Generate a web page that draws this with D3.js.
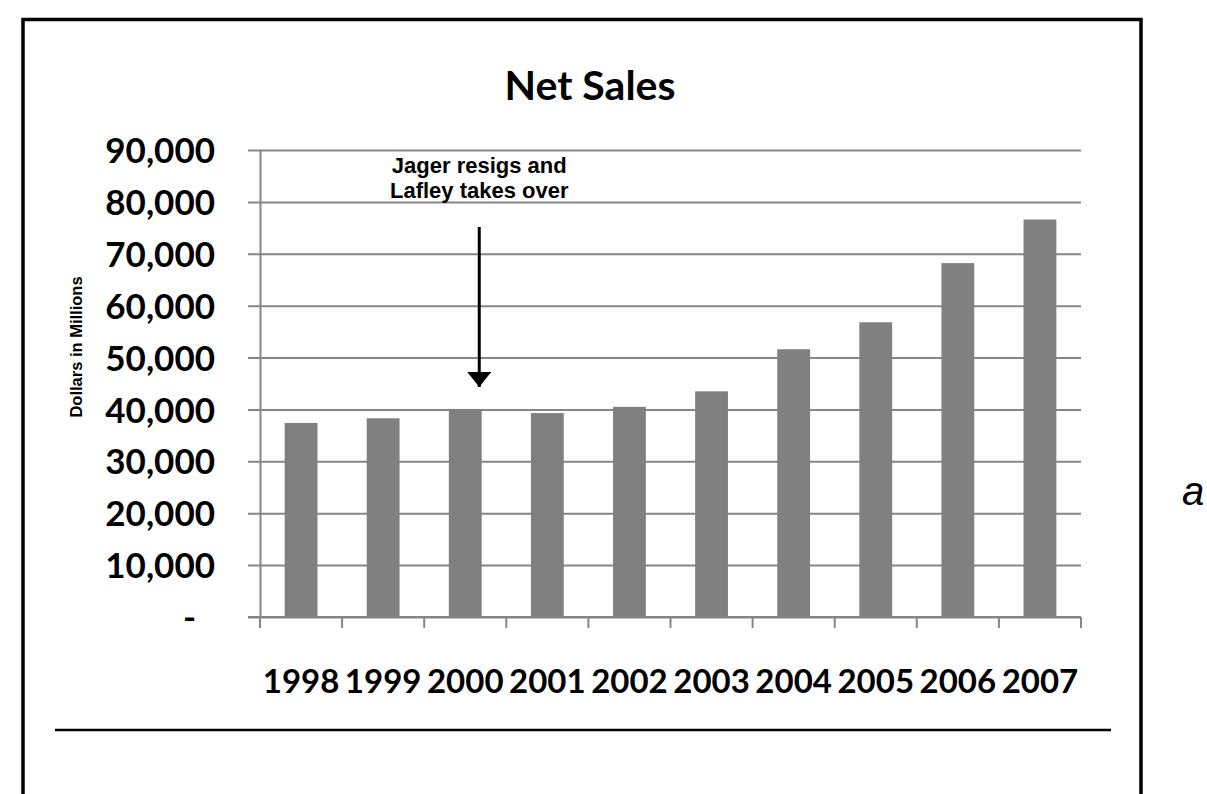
<!DOCTYPE html>
<html>
<head>
<meta charset="utf-8">
<script src="https://cdn.jsdelivr.net/npm/d3@7"></script>
<style>
  body { margin: 0; background: #fff; }
  svg { display: block; }
</style>
</head>
<body>
<div class="chart"></div>
<script>
// Data
const years = ['1998', '1999', '2000', '2001', '2002', '2003', '2004', '2005', '2006', '2007'];
const netSales = [37400, 38300, 40100, 39300, 40500, 43500, 51600, 56800, 68200, 76600];
const yTicks = [0, 10000, 20000, 30000, 40000, 50000, 60000, 70000, 80000, 90000];
const noteLines = ['Jager resigs and', 'Lafley takes over'];
const noteYear = '2000';

// SVG dimensions
const width = 1207;
const height = 794;
const margin = { top: 150, left: 260, right: 126, bottom: 177 };
const plotW = width - margin.left - margin.right;
const plotH = height - margin.top - margin.bottom;

const svg = d3.select('.chart')
  .append('svg')
  .attr('width', width)
  .attr('height', height);

// Frame round the slide
svg.append('path')
  .attr('d', `M23,${height + 5} V19.5 H1141 V${height + 5}`)
  .attr('fill', 'none')
  .attr('stroke', '#000')
  .attr('stroke-width', 3.5);

svg.append('line')
  .attr('x1', 55).attr('x2', 1111)
  .attr('y1', 730).attr('y2', 730)
  .attr('stroke', '#000')
  .attr('stroke-width', 2.5);

svg.append('text')
  .attr('x', 1182).attr('y', 505)
  .attr('font-family', 'Liberation Sans, Arial, sans-serif')
  .attr('font-style', 'italic')
  .attr('font-size', 40)
  .text('a');

// Title
svg.append('text')
  .attr('x', 590).attr('y', 100)
  .attr('text-anchor', 'middle')
  .attr('font-family', 'Lato, sans-serif')
  .attr('font-weight', 'bold')
  .attr('font-size', 41)
  .text('Net Sales');

// Scales
const x = d3.scaleBand()
  .domain(years)
  .range([0, plotW])
  .paddingInner(0.6)
  .paddingOuter(0.3);

const xEdge = d3.scaleLinear()
  .domain([0, years.length])
  .range([0, plotW]);

const y = d3.scaleLinear()
  .domain([0, 90000])
  .range([plotH, 0]);

const g = svg.append('g')
  .attr('transform', `translate(${margin.left},${margin.top})`);

// Y axis with gridlines
const yAxis = g.append('g')
  .call(d3.axisLeft(y)
    .tickValues(yTicks)
    .tickSizeInner(-plotW)
    .tickSizeOuter(0)
    .tickPadding(45)
    .tickFormat(d => d === 0 ? '-' : d3.format(',')(d)));

yAxis.select('.domain').attr('stroke', '#868686').attr('stroke-width', 2);
yAxis.selectAll('.tick line')
  .attr('x1', -12)
  .attr('stroke', '#868686')
  .attr('stroke-width', 2);
yAxis.selectAll('.tick text')
  .attr('fill', '#000')
  .attr('font-family', 'Lato, sans-serif')
  .attr('font-weight', 'bold')
  .attr('font-size', 35)
  .attr('dy', '0.36em');
yAxis.selectAll('.tick text')
  .filter(d => d === 0)
  .attr('x', -64);

// Bars
g.selectAll('rect.bar')
  .data(netSales)
  .enter()
  .append('rect')
  .attr('class', 'bar')
  .attr('x', (d, i) => x(years[i]))
  .attr('y', d => y(d))
  .attr('width', x.bandwidth())
  .attr('height', d => plotH - y(d))
  .attr('fill', '#808080');

// X axis line and category ticks
g.append('line')
  .attr('x1', -12).attr('x2', plotW)
  .attr('y1', plotH).attr('y2', plotH)
  .attr('stroke', '#868686')
  .attr('stroke-width', 2);

g.selectAll('line.xtick')
  .data(d3.range(years.length + 1))
  .enter()
  .append('line')
  .attr('class', 'xtick')
  .attr('x1', d => xEdge(d)).attr('x2', d => xEdge(d))
  .attr('y1', plotH).attr('y2', plotH + 11)
  .attr('stroke', '#868686')
  .attr('stroke-width', 2);

g.selectAll('text.year')
  .data(years)
  .enter()
  .append('text')
  .attr('class', 'year')
  .attr('x', d => x(d) + x.bandwidth() / 2)
  .attr('y', plotH + 76)
  .attr('text-anchor', 'middle')
  .attr('font-family', 'Lato, sans-serif')
  .attr('font-weight', 'bold')
  .attr('font-size', 33)
  .text(d => d);

// Y axis title
svg.append('text')
  .attr('transform', 'translate(82,347) rotate(-90)')
  .attr('text-anchor', 'middle')
  .attr('font-family', 'Liberation Sans, Arial, sans-serif')
  .attr('font-weight', 'bold')
  .attr('font-size', 16.5)
  .text('Dollars in Millions');

// Annotation with arrow
const noteX = x(noteYear) + x.bandwidth() / 2 + 14;

g.selectAll('text.note')
  .data(noteLines)
  .enter()
  .append('text')
  .attr('class', 'note')
  .attr('x', noteX)
  .attr('y', (d, i) => 23 + i * 25)
  .attr('text-anchor', 'middle')
  .attr('font-family', 'Liberation Sans, Arial, sans-serif')
  .attr('font-weight', 'bold')
  .attr('font-size', 22)
  .text(d => d);

svg.append('defs')
  .append('marker')
  .attr('id', 'head')
  .attr('viewBox', '0 0 10 10')
  .attr('refX', 10)
  .attr('refY', 5)
  .attr('markerUnits', 'userSpaceOnUse')
  .attr('markerWidth', 15)
  .attr('markerHeight', 24)
  .attr('orient', 'auto')
  .attr('preserveAspectRatio', 'none')
  .append('path')
  .attr('d', 'M0,0 L10,5 L0,10 Z')
  .attr('fill', '#000');

g.append('line')
  .attr('x1', noteX).attr('x2', noteX)
  .attr('y1', 77).attr('y2', 237)
  .attr('stroke', '#000')
  .attr('stroke-width', 3)
  .attr('marker-end', 'url(#head)');
</script>
</body>
</html>
